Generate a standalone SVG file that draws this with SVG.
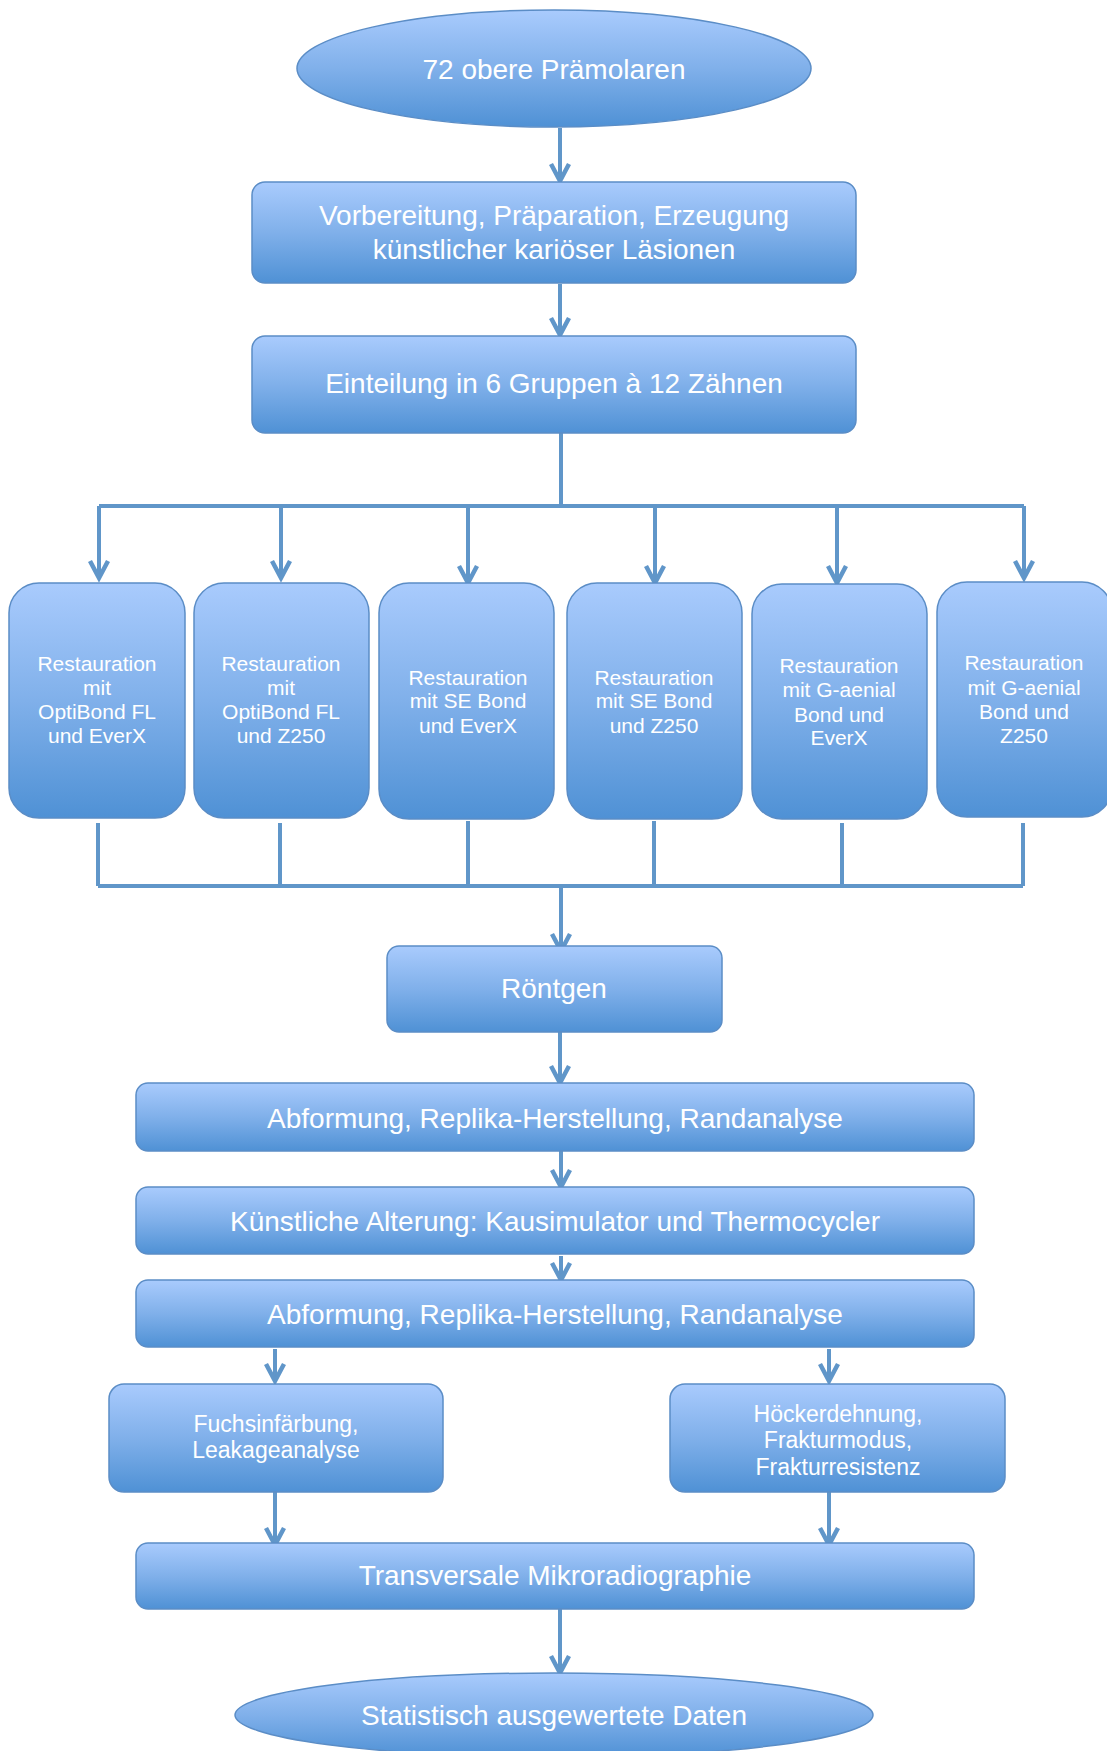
<svg xmlns="http://www.w3.org/2000/svg" width="1107" height="1751" viewBox="0 0 1107 1751">
<defs>
<linearGradient id="g" x1="0" y1="0" x2="0" y2="1">
<stop offset="0" stop-color="#a9cbfd"/>
<stop offset="0.5" stop-color="#80b0ea"/>
<stop offset="1" stop-color="#4f91d5"/>
</linearGradient>
<marker id="a" markerUnits="userSpaceOnUse" markerWidth="30" markerHeight="30" viewBox="-20 -15 30 30" refX="0" refY="0" orient="auto" overflow="visible">
<path d="M-17,-9 L0,0 L-17,9" fill="none" stroke="#6096c9" stroke-width="4.5" stroke-linejoin="miter"/>
</marker>
<style>
.n{fill:url(#g);stroke:#5b8dc6;stroke-width:1.5}
.t{fill:#ffffff;font-family:"Liberation Sans",Arial,sans-serif;text-anchor:middle}
.L{font-size:28px}
.S{font-size:21px}
.M{font-size:23px}
.c{fill:none;stroke:#6096c9;stroke-width:4}
.ar{marker-end:url(#a)}
</style>
</defs>
<g id="connectors">
<line class="c ar" x1="560" y1="128" x2="560" y2="181"/>
<line class="c ar" x1="560" y1="284" x2="560" y2="335"/>
<path class="c" d="M561,433 V506 M99,506 H1024"/>
<line class="c ar" x1="99" y1="506" x2="99" y2="578"/>
<line class="c ar" x1="281" y1="506" x2="281" y2="578"/>
<line class="c ar" x1="468" y1="506" x2="468" y2="583"/>
<line class="c ar" x1="655" y1="506" x2="655" y2="583"/>
<line class="c ar" x1="837" y1="506" x2="837" y2="583"/>
<line class="c ar" x1="1024" y1="506" x2="1024" y2="578"/>
<path class="c" d="M98,823 V886 M280,823 V886 M468,821 V886 M654,821 V886 M842,823 V886 M1023,823 V886 M98,886 H1023"/>
<line class="c ar" x1="561" y1="886" x2="561" y2="951"/>
<line class="c ar" x1="560" y1="1032" x2="560" y2="1083"/>
<line class="c ar" x1="561" y1="1151" x2="561" y2="1187"/>
<line class="c ar" x1="561" y1="1256" x2="561" y2="1280"/>
<line class="c ar" x1="275" y1="1349" x2="275" y2="1381"/>
<line class="c ar" x1="829" y1="1349" x2="829" y2="1381"/>
<line class="c ar" x1="275" y1="1492" x2="275" y2="1545"/>
<line class="c ar" x1="829" y1="1492" x2="829" y2="1545"/>
<line class="c ar" x1="560" y1="1609" x2="560" y2="1673"/>
</g>
<g id="n1"><ellipse class="n" cx="554" cy="68.5" rx="257" ry="58.5"/><text class="t L" x="554" y="79">72 obere Prämolaren</text></g>
<g id="n2"><rect class="n" x="252" y="182" width="604" height="101" rx="13"/><text class="t L" x="554" y="225">Vorbereitung, Präparation, Erzeugung</text><text class="t L" x="554" y="259">künstlicher kariöser Läsionen</text></g>
<g id="n3"><rect class="n" x="252" y="336" width="604" height="97" rx="13"/><text class="t L" x="554" y="393">Einteilung in 6 Gruppen à 12 Zähnen</text></g>
<g id="b1"><rect class="n" x="9" y="583" width="176" height="235" rx="30"/><text class="t S" x="97" y="671">Restauration</text><text class="t S" x="97" y="695">mit</text><text class="t S" x="97" y="719">OptiBond FL</text><text class="t S" x="97" y="743">und EverX</text></g>
<g id="b2"><rect class="n" x="194" y="583" width="175" height="235" rx="30"/><text class="t S" x="281" y="671">Restauration</text><text class="t S" x="281" y="695">mit</text><text class="t S" x="281" y="719">OptiBond FL</text><text class="t S" x="281" y="743">und Z250</text></g>
<g id="b3"><rect class="n" x="379" y="583" width="175" height="236" rx="30"/><text class="t S" x="468" y="685">Restauration</text><text class="t S" x="468" y="708">mit SE Bond</text><text class="t S" x="468" y="733">und EverX</text></g>
<g id="b4"><rect class="n" x="567" y="583" width="175" height="236" rx="30"/><text class="t S" x="654" y="685">Restauration</text><text class="t S" x="654" y="708">mit SE Bond</text><text class="t S" x="654" y="733">und Z250</text></g>
<g id="b5"><rect class="n" x="752" y="584" width="175" height="235" rx="30"/><text class="t S" x="839" y="673">Restauration</text><text class="t S" x="839" y="697">mit G-aenial</text><text class="t S" x="839" y="722">Bond und</text><text class="t S" x="839" y="745">EverX</text></g>
<g id="b6"><rect class="n" x="937" y="582" width="175" height="235" rx="30"/><text class="t S" x="1024" y="670">Restauration</text><text class="t S" x="1024" y="695">mit G-aenial</text><text class="t S" x="1024" y="719">Bond und</text><text class="t S" x="1024" y="743">Z250</text></g>
<g id="n4"><rect class="n" x="387" y="946" width="335" height="86" rx="12"/><text class="t L" x="554" y="998">Röntgen</text></g>
<g id="n5"><rect class="n" x="136" y="1083" width="838" height="68" rx="12"/><text class="t L" x="555" y="1128">Abformung, Replika-Herstellung, Randanalyse</text></g>
<g id="n6"><rect class="n" x="136" y="1187" width="838" height="67" rx="12"/><text class="t L" x="555" y="1231">Künstliche Alterung: Kausimulator und Thermocycler</text></g>
<g id="n7"><rect class="n" x="136" y="1280" width="838" height="67" rx="12"/><text class="t L" x="555" y="1324">Abformung, Replika-Herstellung, Randanalyse</text></g>
<g id="n8"><rect class="n" x="109" y="1384" width="334" height="108" rx="15"/><text class="t M" x="276" y="1432">Fuchsinfärbung,</text><text class="t M" x="276" y="1458">Leakageanalyse</text></g>
<g id="n9"><rect class="n" x="670" y="1384" width="335" height="108" rx="15"/><text class="t M" x="838" y="1422">Höckerdehnung,</text><text class="t M" x="838" y="1448">Frakturmodus,</text><text class="t M" x="838" y="1475">Frakturresistenz</text></g>
<g id="n10"><rect class="n" x="136" y="1543" width="838" height="66" rx="12"/><text class="t L" x="555" y="1585">Transversale Mikroradiographie</text></g>
<g id="n11"><ellipse class="n" cx="554" cy="1715" rx="319" ry="42"/><text class="t L" x="554" y="1725">Statistisch ausgewertete Daten</text></g>
</svg>
